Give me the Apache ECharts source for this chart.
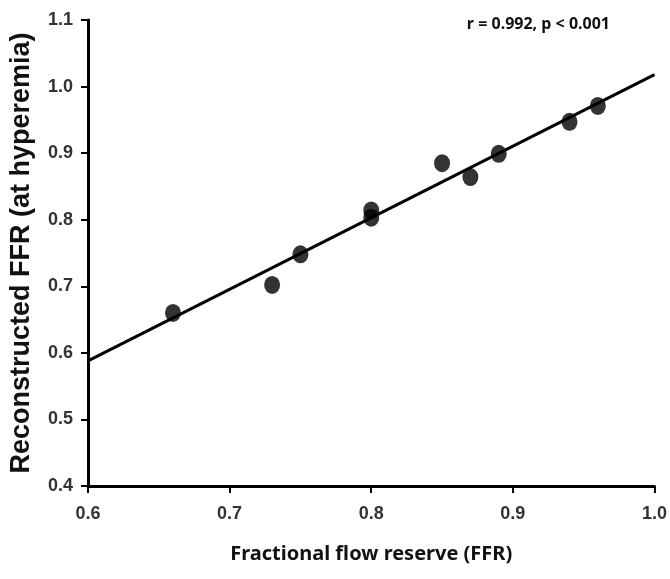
<!DOCTYPE html>
<html>
<head>
<meta charset="utf-8">
<script src="https://cdn.jsdelivr.net/npm/echarts@6/dist/echarts.min.js"></script>
<style>
  html, body { margin: 0; padding: 0; background: #fff; }
  #chart { width: 670px; height: 579px; }
</style>
</head>
<body>
<div id="chart"></div>
<script>
const ffrX = [0.66, 0.73, 0.75, 0.80, 0.80, 0.85, 0.87, 0.89, 0.94, 0.96]
const ffrY = [0.660, 0.702, 0.748, 0.814, 0.803, 0.885, 0.864, 0.899, 0.947, 0.971]
// fitted line end points
const fitX = [0.6, 1.0]
const fitY = [0.588, 1.018]
const statText = 'r = 0.992, p < 0.001'

const chart = echarts.init(document.getElementById('chart'))

const axisCommon = {
  axisLine: { lineStyle: { color: '#000', width: 3 } },
  axisTick: { show: true, length: 7, lineStyle: { color: '#000', width: 2 } },
  axisLabel: {
    color: '#333',
    fontSize: 18,
    fontWeight: 'bold',
    fontFamily: 'Liberation Sans',
    formatter: (v) => v.toFixed(1),
  },
  splitLine: { show: false },
}

chart.setOption({
  animation: false,
  grid: { left: 88, right: 15, top: 20, bottom: 93 },
  title: {
    text: statText,
    right: 55,
    top: 11,
    textStyle: { fontSize: 16, fontWeight: 'bold', color: '#111', fontFamily: 'Noto Sans' },
  },
  xAxis: {
    type: 'value',
    min: 0.6,
    max: 1.0,
    interval: 0.1,
    name: 'Fractional flow reserve (FFR)',
    nameLocation: 'middle',
    nameGap: 58,
    nameTextStyle: { fontSize: 20, fontWeight: 'bold', color: '#111', fontFamily: 'Noto Sans' },
    ...axisCommon,
    axisLabel: { ...axisCommon.axisLabel, margin: 19 },
  },
  yAxis: {
    type: 'value',
    min: 0.4,
    max: 1.1,
    interval: 0.1,
    name: 'Reconstructed FFR (at hyperemia)',
    nameLocation: 'middle',
    nameGap: 53,
    nameTextStyle: { fontSize: 27, fontWeight: 'bold', color: '#111', fontFamily: 'Liberation Sans' },
    ...axisCommon,
    axisLabel: { ...axisCommon.axisLabel, margin: 15 },
  },
  series: [
    {
      type: 'line',
      data: fitX.map((x, i) => [x, fitY[i]]),
      symbol: 'none',
      lineStyle: { color: '#000', width: 3 },
      z: 2,
    },
    {
      type: 'scatter',
      data: ffrX.map((x, i) => [x, ffrY[i]]),
      symbol: 'circle',
      symbolSize: [16, 18],
      itemStyle: { color: '#000' },
      z: 3,
    },
  ],
})
</script>
</body>
</html>
